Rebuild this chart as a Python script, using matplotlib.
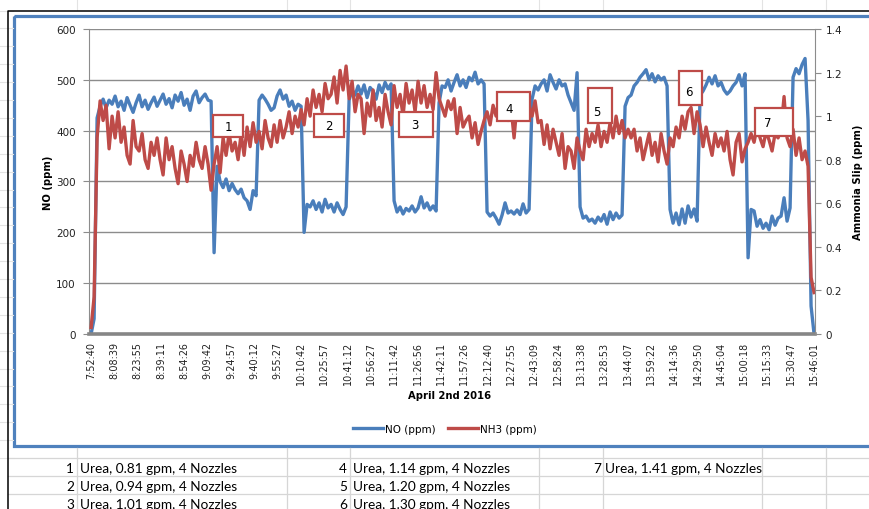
import numpy as np
import matplotlib
matplotlib.use("Agg")
import matplotlib.pyplot as plt
import matplotlib.transforms as mtransforms
from matplotlib.patches import Rectangle

# category labels on the time axis
time_labels = ["7:52:40", "8:08:39", "8:23:55", "8:39:11", "8:54:26", "9:09:42",
               "9:24:57", "9:40:12", "9:55:27", "10:10:42", "10:25:57", "10:41:12",
               "10:56:27", "11:11:42", "11:26:56", "11:42:11", "11:57:26", "12:12:40",
               "12:27:55", "12:43:09", "12:58:24", "13:13:38", "13:28:53", "13:44:07",
               "13:59:22", "14:14:36", "14:29:50", "14:45:04", "15:00:18", "15:15:33",
               "15:30:47", "15:46:01"]

# NO (ppm) at even steps from the first to the last label
no_ppm = [
    0, 30, 425, 448, 462, 445, 460, 452, 468, 447,
    458, 440, 465, 450, 436, 455, 470, 447, 460, 442,
    455, 466, 448, 460, 472, 452, 463, 445, 470, 458,
    475, 450, 462, 440, 468, 478, 455, 465, 472, 460,
    458, 160, 330, 300, 288, 305, 282, 296, 284, 276,
    285, 268, 262, 245, 282, 272, 460, 470, 462, 452,
    440, 445, 468, 480, 462, 470, 448, 458, 440, 452,
    448, 200, 255, 250, 262, 245, 258, 240, 265, 248,
    255, 240, 258, 245, 235, 250, 460, 480, 470, 488,
    472, 490, 465, 485, 478, 462, 490, 475, 495, 482,
    492, 262, 240, 250, 236, 247, 242, 252, 240, 248,
    270, 248, 258, 244, 252, 242, 455, 488, 485, 500,
    478, 495, 510, 488, 500, 485, 505, 498, 515, 492,
    500, 492, 240, 232, 238, 228, 216, 234, 258, 238,
    242, 236, 244, 235, 256, 238, 245, 462, 488, 480,
    492, 500, 478, 510, 495, 482, 500, 488, 492, 470,
    455, 440, 514, 250, 228, 232, 222, 226, 218, 230,
    222, 235, 216, 240, 225, 238, 228, 234, 448, 465,
    470, 488, 495, 505, 512, 520, 500, 512, 496, 508,
    500, 505, 488, 245, 218, 238, 215, 246, 218, 252,
    230, 246, 222, 470, 478, 490, 505, 492, 508, 488,
    495, 480, 472, 478, 488, 495, 510, 488, 512, 150,
    245, 242, 212, 225, 208, 218, 205, 232, 214, 228,
    232, 268, 222, 248, 505, 522, 512, 530, 542, 420,
    55, 0,
]

# NH3 slip (ppm), same sampling
nh3_ppm = [
    0.03, 0.17, 0.90, 1.07, 0.98, 1.05, 0.85, 1.00, 0.90, 1.02,
    0.88, 0.95, 0.82, 0.78, 0.98, 0.86, 0.84, 0.92, 0.80, 0.76,
    0.88, 0.82, 0.90, 0.80, 0.73, 0.90, 0.80, 0.86, 0.76, 0.69,
    0.84, 0.78, 0.70, 0.82, 0.77, 0.88, 0.80, 0.76, 0.86, 0.78,
    0.66, 0.78, 0.86, 0.74, 0.90, 0.82, 0.92, 0.84, 0.88, 0.80,
    0.92, 0.82, 0.95, 0.86, 0.97, 0.88, 0.93, 0.85, 0.98, 0.90,
    0.86, 0.96, 0.88, 0.98, 0.90, 0.95, 1.02, 0.92, 1.00, 0.95,
    1.03, 0.96, 1.08, 1.00, 1.12, 1.04, 1.10, 1.02, 1.15, 1.08,
    1.10, 1.18, 1.06, 1.21, 1.12, 1.23, 1.08, 1.16, 1.02, 1.10,
    1.08, 0.92, 1.06, 1.00, 1.12, 0.98, 1.04, 0.95, 1.10, 1.02,
    0.96, 1.14, 1.04, 1.10, 1.00, 1.15, 1.06, 1.12, 1.02, 1.16,
    1.06, 1.14, 1.04, 1.10, 1.03, 1.20, 1.08, 1.04, 1.00, 1.07,
    1.03, 1.08, 0.92, 1.04, 0.95, 0.98, 1.00, 0.90, 0.97, 0.87,
    0.93, 0.98, 1.02, 0.96, 1.05, 1.00, 1.08, 1.02, 1.06, 0.98,
    1.04, 0.90, 1.06, 1.00, 1.08, 1.02, 1.05, 1.00, 1.07, 0.97,
    0.98, 0.87, 0.96, 0.85, 0.94, 0.88, 0.82, 0.92, 0.76, 0.86,
    0.84, 0.76, 0.90, 0.84, 0.80, 0.94, 0.86, 0.92, 0.88, 0.96,
    0.86, 0.93, 0.88, 0.97, 0.90, 1.00, 0.92, 0.98, 0.90, 0.94,
    0.90, 0.94, 0.84, 0.90, 0.80, 0.86, 0.92, 0.82, 0.88, 0.79,
    0.92, 0.84, 0.78, 0.90, 0.86, 0.95, 0.90, 1.00, 0.94, 1.02,
    1.04, 0.92, 1.02, 0.96, 0.86, 0.95, 0.88, 0.82, 0.92, 0.86,
    0.90, 0.84, 0.93, 0.80, 0.73, 0.88, 0.92, 0.79, 0.85, 0.88,
    0.92, 0.88, 0.95, 0.90, 0.86, 0.93, 0.89, 0.84, 0.92, 0.90,
    0.94, 1.09, 0.90, 0.86, 0.94, 0.82, 0.90, 0.80, 0.84, 0.77,
    0.26, 0.19,
]

# test runs: id, where the callout sits (time-label units, NO ppm)
run_ids = [1, 2, 3, 4, 5, 6, 7]
run_pos = [5.88, 10.18, 13.95, 18.12, 21.81, 25.72, 29.28]
run_level = [409, 411, 413, 448, 450, 484, 417]
urea_gpm = ["0.81", "0.94", "1.01", "1.14", "1.20", "1.30", "1.41"]
nozzles = [4, 4, 4, 4, 4, 4, 4]

# callout box size (px) and digit offset (px) -- styling only
box_px = [(30, 22), (30, 23), (34, 25), (33, 29), (24, 35), (23, 34), (38, 28)]
txt_off = [(0, 0), (0, 0), (-2, 0), (-5, 2), (-3, 6), (-2, 4), (-6, 0)]

BLUE = "#4A7EBB"
RED = "#BE4B48"
GRID = "#8C8C8C"
W, H = 870, 510

fig = plt.figure(figsize=(W / 100, H / 100), dpi=100)
fig.patch.set_facecolor("white")

# background: spreadsheet bits around the chart, in pixel coordinates
bg = fig.add_axes([0, 0, 1, 1], zorder=-5)
bg.set_xlim(0, W)
bg.set_ylim(H, 0)
bg.axis("off")
for yy in np.arange(459, 0, -17.9):
    bg.plot([0, 13], [yy, yy], color="#e3e3e3", lw=0.8)
for yy in [459, 477, 495]:
    bg.plot([8, W], [yy, yy], color="#d6d6d6", lw=0.9)
for xx in [77, 287, 350, 539, 603, 762, 826]:
    bg.plot([xx, xx], [449, H], color="#d6d6d6", lw=0.9)
    bg.plot([xx, xx], [0, 11], color="#e3e3e3", lw=0.8)
bg.plot([8.5, 8.5, W], [H, 12, 12], color="black", lw=1.1)
bg.add_patch(Rectangle((14, 16.5), W + 20, 430, fill=False, edgecolor="#4F81BD", lw=2.3))

# table of runs under the chart
cols_x = [(74, 80), (347, 353), (601, 605)]
for i, rid in enumerate(run_ids):
    c, r = divmod(i, 3)
    nx, tx = cols_x[c]
    yy = 469 + r * 18
    bg.text(nx, yy, str(rid), ha="right", va="center", fontsize=9.8,
            family="Lato", color="black")
    bg.text(tx, yy, "Urea, %s gpm, %d Nozzles" % (urea_gpm[i], nozzles[i]),
            ha="left", va="center", fontsize=9.8, family="Lato", color="black")

# main chart
ax = fig.add_axes([89 / W, 1 - 335 / H, (815 - 89) / W, (335 - 30) / H])
ax.set_facecolor("none")
x = np.linspace(0, len(time_labels) - 1, len(no_ppm))
ln1, = ax.plot(x, no_ppm, color=BLUE, lw=2.4, solid_joinstyle="round")
ax.set_ylim(0, 600)
ax.set_xlim(-0.09, 31.04)
ax.set_yticks(range(0, 601, 100))
ax.yaxis.grid(True, color=GRID, lw=1.0)
ax.set_axisbelow(True)
ax.set_xticks(range(len(time_labels)))
ax.set_xticklabels(time_labels, rotation=90, fontsize=6.9, color="#222222")
ax.tick_params(axis="x", length=0, pad=5)
ax.tick_params(axis="y", length=4, width=0.8, color=GRID, labelsize=7.5,
               labelcolor="#222222", pad=5.5)
for s in ["top", "right"]:
    ax.spines[s].set_visible(False)
ax.spines["left"].set_color(GRID)
ax.spines["bottom"].set_color("#868686")
ax.spines["bottom"].set_linewidth(2.6)
ax.spines["bottom"].set_zorder(4)
ax.set_ylabel("NO (ppm)", fontsize=7.2, fontweight="bold")
ax.yaxis.set_label_coords(-0.049, 0.5)
ax.set_xlabel("April 2nd 2016", fontsize=7.2, fontweight="bold")
ax.xaxis.set_label_coords(0.496, -0.183)

ax2 = ax.twinx()
ln2, = ax2.plot(x, nh3_ppm, color=RED, lw=2.4, solid_joinstyle="round")
ax2.set_ylim(0, 1.4)
ax2.set_yticks([0, 0.2, 0.4, 0.6, 0.8, 1.0, 1.2, 1.4])
ax2.set_yticklabels(["0", "0.2", "0.4", "0.6", "0.8", "1", "1.2", "1.4"])
ax2.tick_params(axis="y", length=4, width=0.8, color=GRID, labelsize=7.5,
                labelcolor="#222222", pad=3.5)
for s in ["top", "left", "bottom"]:
    ax2.spines[s].set_visible(False)
ax2.spines["right"].set_color(GRID)
ax2.set_ylabel("Ammonia Slip (ppm)", fontsize=7.2, fontweight="bold", rotation=90)
ax2.yaxis.set_label_coords(1.053, 0.5)

# numbered run callouts
for rid, px, lv, (bw, bh), (dx, dy) in zip(run_ids, run_pos, run_level, box_px, txt_off):
    tr = fig.dpi_scale_trans + mtransforms.ScaledTranslation(px, lv, ax.transData)
    ax2.add_patch(Rectangle((-bw / 200, -bh / 200), bw / 100, bh / 100, transform=tr,
                            facecolor="white", edgecolor=RED, lw=1.6, zorder=5,
                            clip_on=False))
    ax2.text(dx / 100, -dy / 100, str(rid), transform=tr, ha="center", va="center",
             fontsize=8.5, zorder=6)

fig.legend([ln1, ln2], ["NO (ppm)", "NH3 (ppm)"], loc="center",
           bbox_to_anchor=(445 / W, 1 - 430 / H), ncol=2, frameon=False,
           fontsize=7.5, handlelength=2.9, handletextpad=0.15, columnspacing=1.2)

fig.savefig("out.png", dpi=100, facecolor="white")
